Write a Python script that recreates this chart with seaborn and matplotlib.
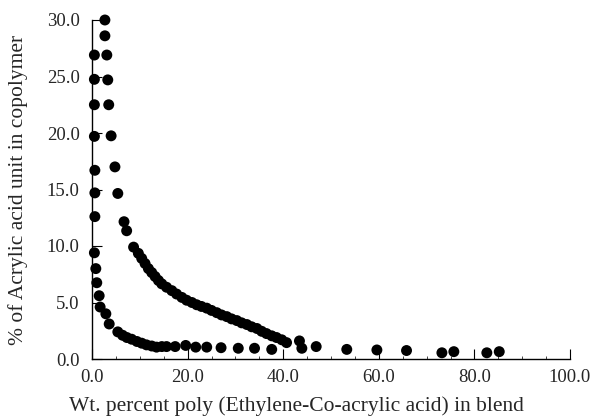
import matplotlib
matplotlib.use("Agg")
import matplotlib.pyplot as plt
import seaborn as sns
import pandas as pd
from matplotlib.ticker import MultipleLocator, FormatStrFormatter

# inner branch (steep near 0, then the flat tail)
x_inner = [0.5, 0.5, 0.5, 0.5, 0.6, 0.6, 0.6, 0.5, 0.8, 1.0, 1.5, 1.7, 2.9, 3.6,
           5.4, 6.4, 7.3, 8.3, 9.4, 10.4, 11.4, 12.5, 13.5, 14.6, 15.6, 17.4,
           19.6, 21.7, 24.0, 27.0, 30.6, 34.0, 37.6, 43.9, 46.9, 53.3, 59.6,
           65.8, 73.2, 75.7, 82.6, 85.2]
y_inner = [26.9, 24.75, 22.5, 19.7, 16.7, 14.7, 12.6, 9.4, 8.0, 6.75, 5.6, 4.6,
           4.0, 3.1, 2.4, 2.1, 1.9, 1.75, 1.55, 1.4, 1.25, 1.15, 1.05, 1.1, 1.1,
           1.1, 1.2, 1.05, 1.05, 1.0, 0.95, 0.95, 0.85, 0.95, 1.1, 0.85, 0.8,
           0.75, 0.55, 0.65, 0.55, 0.65]

# outer branch
x_outer = [2.7, 2.7, 3.1, 3.3, 3.5, 4.0, 4.8, 5.4, 6.7, 7.25, 8.7, 9.7, 10.4,
           11.1, 11.8, 12.5, 13.2, 13.9, 14.6, 15.6, 16.7, 17.7, 18.8, 19.8,
           20.9, 21.9, 22.9, 24.0, 25.0, 26.1, 27.1, 28.2, 29.2, 30.3, 31.3,
           32.4, 33.4, 34.5, 35.5, 36.5, 37.6, 38.6, 39.7, 40.7, 43.4]
y_outer = [30.0, 28.6, 26.9, 24.7, 22.5, 19.75, 17.0, 14.65, 12.15, 11.35, 9.9,
           9.35, 8.9, 8.45, 8.0, 7.65, 7.3, 6.95, 6.65, 6.35, 6.05, 5.75, 5.45,
           5.2, 5.0, 4.8, 4.65, 4.5, 4.3, 4.1, 3.9, 3.75, 3.55, 3.4, 3.2, 3.05,
           2.85, 2.7, 2.45, 2.25, 2.05, 1.9, 1.7, 1.45, 1.6]

df = pd.concat([
    pd.DataFrame({"x": x_inner, "y": y_inner, "branch": "inner"}),
    pd.DataFrame({"x": x_outer, "y": y_outer, "branch": "outer"}),
])

sns.set_style("ticks")
plt.rcParams["font.family"] = ["Liberation Serif", "DejaVu Serif"]

fig = plt.figure(figsize=(5.94, 4.18), dpi=100)
ax = fig.add_axes([92 / 594, 1 - 359 / 418, 478 / 594, 339 / 418])

sns.scatterplot(data=df, x="x", y="y", color="black", edgecolor="none",
                s=62, legend=False, ax=ax, clip_on=False)

ax.set_xlim(0, 100)
ax.set_ylim(0, 30)
ax.xaxis.set_major_locator(MultipleLocator(20))
ax.xaxis.set_minor_locator(MultipleLocator(5))
ax.yaxis.set_major_locator(MultipleLocator(5))
ax.xaxis.set_major_formatter(FormatStrFormatter("%.1f"))
ax.yaxis.set_major_formatter(FormatStrFormatter("%.1f"))
ax.tick_params(axis="both", which="major", direction="in", length=7,
               width=0.8, labelsize=13.5, color="black")
ax.tick_params(axis="x", which="major", pad=7)
ax.tick_params(axis="y", which="major", pad=9)
ax.tick_params(axis="x", which="minor", direction="in", length=2, width=0.6)

for side in ["top", "right"]:
    ax.spines[side].set_visible(False)
for side in ["left", "bottom"]:
    ax.spines[side].set_linewidth(1.0)
    ax.spines[side].set_color("black")

ax.set_xlabel("Wt. percent poly (Ethylene-Co-acrylic acid) in blend",
              fontsize=15.5)
ax.xaxis.set_label_coords(0.427, -0.11)
ax.set_ylabel("% of Acrylic acid unit in copolymer", fontsize=15.5)
ax.yaxis.set_label_coords(-0.133, 0.5)

fig.savefig("out.png", dpi=100)
